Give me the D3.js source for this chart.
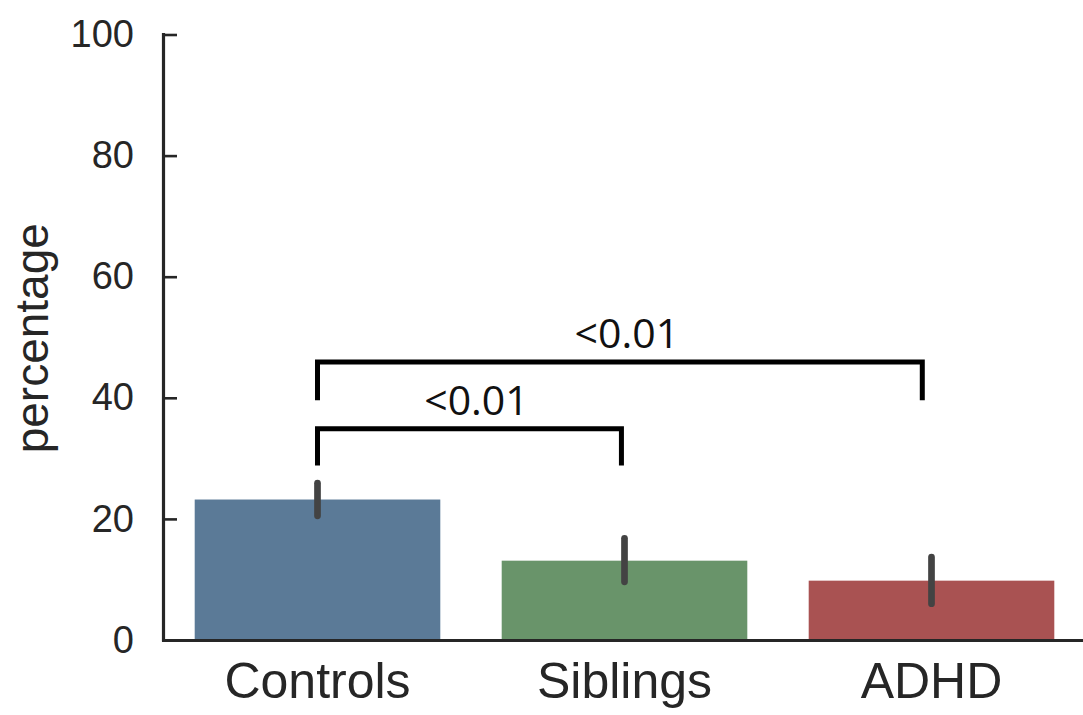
<!DOCTYPE html>
<html>
<head>
<meta charset="utf-8">
<script src="https://cdn.jsdelivr.net/npm/d3@7"></script>
<style>
  html, body { margin: 0; padding: 0; background: #fff; }
  svg { display: block; }
</style>
</head>
<body>
<svg id="chart" width="1083" height="715"></svg>
<script>
// Groups, mean percentages and confidence intervals
const groups = ["Controls", "Siblings", "ADHD"];
const means = [23.2, 13.1, 9.8];
const ciLow = [20.5, 9.6, 6.0];
const ciHigh = [25.9, 16.8, 13.7];
const barColors = ["#5b7a97", "#69946a", "#a95252"];

// y-axis ticks
const yTicks = [0, 20, 40, 60, 80, 100];

// significance brackets: from/to group index, bar height, leg bottom (percent)
const bracketFrom = [0, 0];
const bracketTo = [0.99, 1.97];
const bracketTop = [34.9, 45.9];
const bracketLeg = [28.8, 39.6];
const bracketText = ["<0.01", "<0.01"];

const svg = d3.select("#chart");
const W = 1083, H = 715;
const plotL = 164, plotR = 1085, plotT = 34.5, plotB = 640;

const x = d3.scaleBand().domain(groups).range([plotL, plotR])
  .paddingInner(0.2).paddingOuter(0.1);
// continuous position across groups (group centres at integers)
const xi = d3.scaleLinear().domain([-0.5, groups.length - 0.5]).range([plotL, plotR]);
const y = d3.scaleLinear().domain([0, 100]).range([plotB, plotT]);

const axisFont = "'Liberation Sans', Arial, Helvetica, sans-serif";

// bars
svg.append("g").selectAll("rect")
  .data(groups)
  .join("rect")
  .attr("x", d => x(d))
  .attr("width", x.bandwidth())
  .attr("y", (d, i) => y(means[i]))
  .attr("height", (d, i) => y(0) - y(means[i]))
  .attr("fill", (d, i) => barColors[i]);

// error bars
svg.append("g").selectAll("line")
  .data(groups)
  .join("line")
  .attr("x1", d => x(d) + x.bandwidth() / 2)
  .attr("x2", d => x(d) + x.bandwidth() / 2)
  .attr("y1", (d, i) => y(ciLow[i]))
  .attr("y2", (d, i) => y(ciHigh[i]))
  .attr("stroke", "#434343")
  .attr("stroke-width", 6.7)
  .attr("stroke-linecap", "round");

// y axis with inward ticks
const yAxis = d3.axisLeft(y).tickValues(yTicks).tickSizeInner(-13).tickSizeOuter(0).tickPadding(30);
const gy = svg.append("g").attr("transform", `translate(${plotL},0)`).call(yAxis);
gy.select(".domain").remove();
gy.selectAll(".tick line").attr("stroke", "#262626").attr("stroke-width", 2.6);
gy.selectAll(".tick text")
  .attr("fill", "#262626")
  .style("font-family", axisFont)
  .style("font-size", "38px");
svg.append("line")
  .attr("x1", plotL - 0.5).attr("x2", plotL - 0.5)
  .attr("y1", y(100) - 1.5).attr("y2", y(0) + 1.5)
  .attr("stroke", "#262626").attr("stroke-width", 3.2);

// x axis: baseline and category labels
const xAxis = d3.axisBottom(x).tickSize(0).tickPadding(58);
const gx = svg.append("g").attr("transform", `translate(0,${plotB})`).call(xAxis);
gx.select(".domain").remove();
gx.selectAll(".tick text")
  .attr("fill", "#262626")
  .style("font-family", axisFont)
  .style("font-size", "50px")
  .attr("dy", 0);
svg.append("line")
  .attr("x1", plotL - 2).attr("x2", W)
  .attr("y1", y(0) + 0.5).attr("y2", y(0) + 0.5)
  .attr("stroke", "#262626").attr("stroke-width", 3.2);

// y axis title
svg.append("text")
  .attr("transform", `translate(48,${(y(0) + y(100)) / 2 + 1}) rotate(-90)`)
  .attr("text-anchor", "middle")
  .attr("fill", "#262626")
  .style("font-family", axisFont)
  .style("font-size", "46px")
  .text("percentage");

// significance brackets
const gb = svg.append("g");
bracketText.forEach((t, i) => {
  const x0 = xi(bracketFrom[i]), x1 = xi(bracketTo[i]);
  const yt = y(bracketTop[i]), yl = y(bracketLeg[i]);
  gb.append("path")
    .attr("d", d3.line()([[x0, yl], [x0, yt], [x1, yt], [x1, yl]]))
    .attr("fill", "none")
    .attr("stroke", "#000")
    .attr("stroke-width", 5)
    .attr("stroke-linejoin", "miter");
  gb.append("text")
    .attr("x", (x0 + x1) / 2 + 7)
    .attr("y", yt - 14)
    .attr("text-anchor", "middle")
    .attr("fill", "#111")
    .style("font-family", "'Open Sans', sans-serif")
    .style("font-size", "41px")
    .text(t);
});
</script>
</body>
</html>
